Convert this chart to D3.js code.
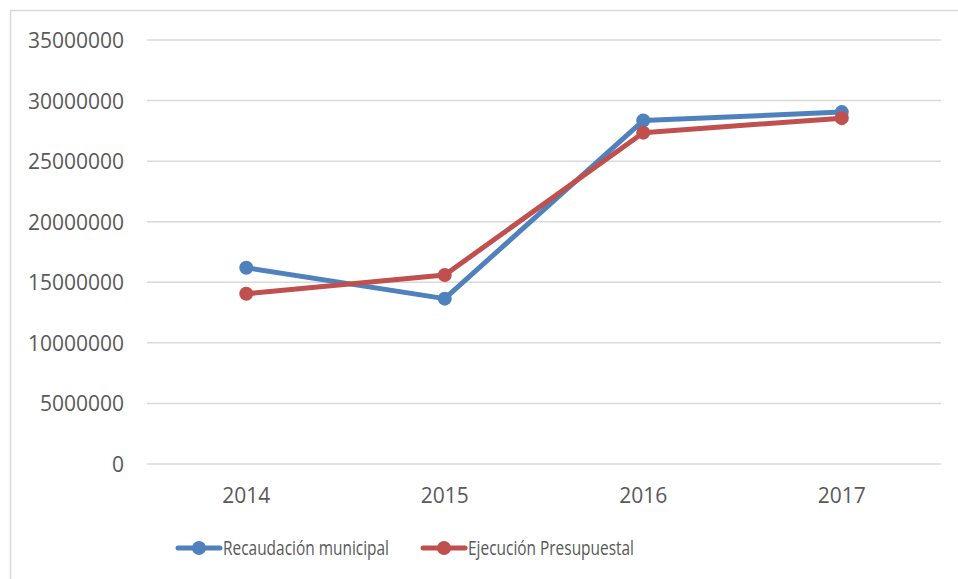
<!DOCTYPE html>
<html>
<head>
<meta charset="utf-8">
<script src="https://cdn.jsdelivr.net/npm/d3@7"></script>
<style>
  body { margin: 0; background: #fff; }
  text { font-family: "Open Sans", sans-serif; fill: #595959; }
</style>
</head>
<body>
<div id="chart"></div>
<script>
// data
var years = ['2014', '2015', '2016', '2017'];
var recaudacion = [16200000, 13650000, 28350000, 29050000];
var ejecucion = [14050000, 15600000, 27350000, 28550000];
var yTicks = [0, 5000000, 10000000, 15000000, 20000000, 25000000, 30000000, 35000000];
var seriesNames = ['Recaudación municipal', 'Ejecución Presupuestal'];
var seriesColors = ['#4F81BD', '#C0504D'];

var width = 958, height = 579;

var svg = d3.select('#chart').append('svg')
  .attr('width', width)
  .attr('height', height);

// chart border
svg.append('rect')
  .attr('x', 10.5).attr('y', 10.5)
  .attr('width', 1000).attr('height', 1000)
  .attr('fill', 'none')
  .attr('stroke', '#d9d9d9')
  .attr('stroke-width', 1.5);

var x = d3.scaleBand().domain(years).range([147, 941]);
var y = d3.scaleLinear().domain([0, 35000000]).range([464, 40]);

// gridlines
svg.selectAll('line.grid').data(yTicks).enter()
  .append('line')
  .attr('class', 'grid')
  .attr('x1', 147).attr('x2', 941)
  .attr('y1', function(d) { return y(d); })
  .attr('y2', function(d) { return y(d); })
  .attr('stroke', '#d9d9d9')
  .attr('stroke-width', 1.5);

// y labels
svg.selectAll('text.ylab').data(yTicks).enter()
  .append('text')
  .attr('class', 'ylab')
  .attr('x', 124)
  .attr('y', function(d) { return y(d) + 8; })
  .attr('text-anchor', 'end')
  .style('font-size', '21px')
  .text(function(d) { return d; });

// x labels
svg.selectAll('text.xlab').data(years).enter()
  .append('text')
  .attr('class', 'xlab')
  .attr('x', function(d) { return x(d) + x.bandwidth() / 2; })
  .attr('y', 503)
  .attr('text-anchor', 'middle')
  .style('font-size', '21px')
  .text(function(d) { return d; });

var line = d3.line()
  .x(function(d, i) { return x(years[i]) + x.bandwidth() / 2; })
  .y(function(d) { return y(d); });

[recaudacion, ejecucion].forEach(function(vals, k) {
  var g = svg.append('g');
  g.append('path')
    .datum(vals)
    .attr('d', line)
    .attr('fill', 'none')
    .attr('stroke', seriesColors[k])
    .attr('stroke-width', 5)
    .attr('stroke-linejoin', 'round')
    .attr('stroke-linecap', 'round');
  g.selectAll('circle').data(vals).enter()
    .append('circle')
    .attr('cx', function(d, i) { return x(years[i]) + x.bandwidth() / 2; })
    .attr('cy', function(d) { return y(d); })
    .attr('r', 7)
    .attr('fill', seriesColors[k]);
});

// legend
var legendX = [178, 423];
seriesNames.forEach(function(name, k) {
  var lg = svg.append('g').attr('transform', 'translate(' + legendX[k] + ',548)');
  lg.append('line')
    .attr('x1', 0).attr('x2', 42)
    .attr('y1', 0).attr('y2', 0)
    .attr('stroke', seriesColors[k])
    .attr('stroke-width', 5)
    .attr('stroke-linecap', 'round');
  lg.append('circle')
    .attr('cx', 21).attr('cy', 0).attr('r', 7)
    .attr('fill', seriesColors[k]);
  lg.append('text')
    .attr('x', 45).attr('y', 7)
    .attr('textLength', 166)
    .attr('lengthAdjust', 'spacingAndGlyphs')
    .style('font-size', '20px')
    .text(name);
});
</script>
</body>
</html>
